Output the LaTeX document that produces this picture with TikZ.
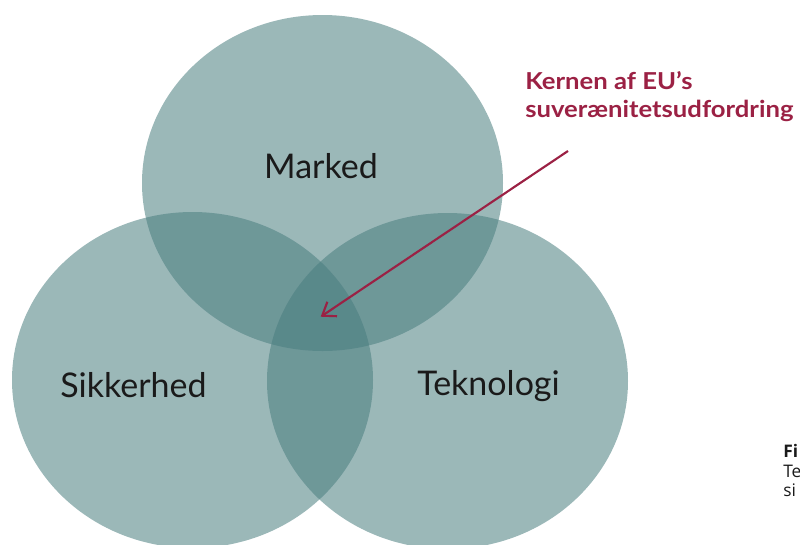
\documentclass[tikz,border=0pt]{standalone}
\usepackage{fontspec}
\setmainfont{Lato}
\newfontfamily\opensans{Open Sans}
\newfontfamily\corefont[FakeStretch=1.1]{Lato}
\usetikzlibrary{shapes.geometric,arrows.meta}
\definecolor{vennteal}{RGB}{73,125,126}
\definecolor{kred}{RGB}{155,33,68}
\definecolor{inkblack}{RGB}{26,26,26}
\begin{document}
\begin{tikzpicture}[x=0.75pt,y=-0.75pt,
  venn/.style={ellipse, minimum width=270.75pt, minimum height=252pt, inner sep=0pt, fill=vennteal, fill opacity=0.55, draw=none},
  vennlabel/.style={font=\fontsize{25.5}{30}\selectfont, text=inkblack, anchor=base, inner sep=0pt},
  corelabel/.style={font=\corefont\fontsize{17.5}{21}\selectfont\bfseries, text=kred, anchor=base west, inner sep=0pt},
  sidetext/.style={font=\opensans\fontsize{13}{15}\selectfont, text=inkblack, anchor=base west, inner sep=0pt},
  corearrow/.style={draw=kred, line width=1.6pt, -{Straight Barb[length=9pt,width=13pt,line width=1.6pt]}}]
\useasboundingbox (0,0) rectangle (800,544);
\node[venn] (mk) at (322.5,183) {};
\node[venn] (sk) at (192.5,380) {};
\node[venn] (tk) at (447.5,381) {};
\node[vennlabel] (mkt) at (321,178) {Marked};
\node[vennlabel] (skt) at (133.5,397) {Sikkerhed};
\node[vennlabel] (tkt) at (488.5,395) {Teknologi};
\node[corelabel] (core1) at (525,89) {Kernen af EU’s};
\node[corelabel] (core2) at (525,117) {suverænitetsudfordring};
\coordinate (arrowstart) at (568,151);
\coordinate (arrowtip) at (320.7,316.7);
\draw[corearrow] (arrowstart) -- (arrowtip);
\node[sidetext, font=\opensans\fontsize{13}{15}\selectfont\bfseries] (s1) at (783,457) {Fi};
\node[sidetext] (s2) at (783,477) {Te};
\node[sidetext] (s3) at (783,496) {si};
\end{tikzpicture}
\end{document}
